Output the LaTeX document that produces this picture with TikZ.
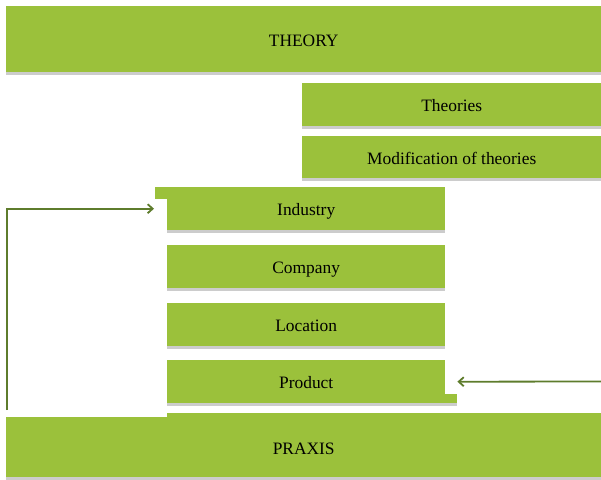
\documentclass[tikz,border=0pt]{standalone}
\usepackage{fontspec}
\setmainfont{Liberation Serif}
\usetikzlibrary{arrows.meta, shadows, positioning}
\definecolor{leaf}{RGB}{155,193,59}
\definecolor{linkgreen}{RGB}{94,124,44}

\begin{document}
\begin{tikzpicture}[x=1pt,y=-1pt,
    box/.style={fill=leaf, inner sep=0pt, anchor=north west, font=\fontsize{17.4}{20}\selectfont,
        text height=14pt, text depth=0pt,
        drop shadow={shadow xshift=0pt, shadow yshift=-2.5pt, fill=black!40}},
    link/.style={draw=linkgreen, line width=1.8pt, -{Straight Barb[length=5pt,width=9pt]}}]

            \useasboundingbox (0,0) rectangle (601,479);

            % Khối lý thuyết
            \node[box, minimum width=595pt, minimum height=66pt] (theory) at (6,6) {THEORY};
            \node[box, minimum width=299pt, minimum height=43pt] (theories) at (302,83) {Theories};
            \node[box, minimum width=299pt, minimum height=42pt] (modif) at (302,136) {Modification of theories};

            % Các cấp độ
            \fill[leaf] (167,187) rectangle ++(-12,12); % phần thừa bên trái
            \node[box, minimum width=278pt, minimum height=43pt] (ind) at (167,187) {Industry};
            \node[box, minimum width=278pt, minimum height=43pt] (comp) at (167,245) {Company};
            \node[box, minimum width=278pt, minimum height=43pt] (loc) at (167,303) {Location};
            \node[box, minimum width=278pt, minimum height=43pt] (prod) at (167,360) {Product};
            \path[fill=leaf, drop shadow={shadow xshift=0pt, shadow yshift=-2.5pt, fill=black!40}]
                (prod.south east) rectangle ++(12,-9); % phần thừa bên phải

            % Khối thực tiễn
            \node[box, minimum width=595pt, minimum height=60pt] (praxis) at (6,417) {PRAXIS};
            \fill[leaf] (praxis.north east) rectangle ([xshift=161pt,yshift=4pt]praxis.north west);

            % Mũi tên
            \coordinate (fromPraxis) at (7,410);
            \coordinate (intoProduct) at (601,381.5);
            \draw[link] (fromPraxis) |- ([xshift=-13pt]ind.west); % từ thực tiễn lên
            \draw[link] (intoProduct) -- ([xshift=12pt]prod.east); % vào sản phẩm

\end{tikzpicture}
\end{document}
